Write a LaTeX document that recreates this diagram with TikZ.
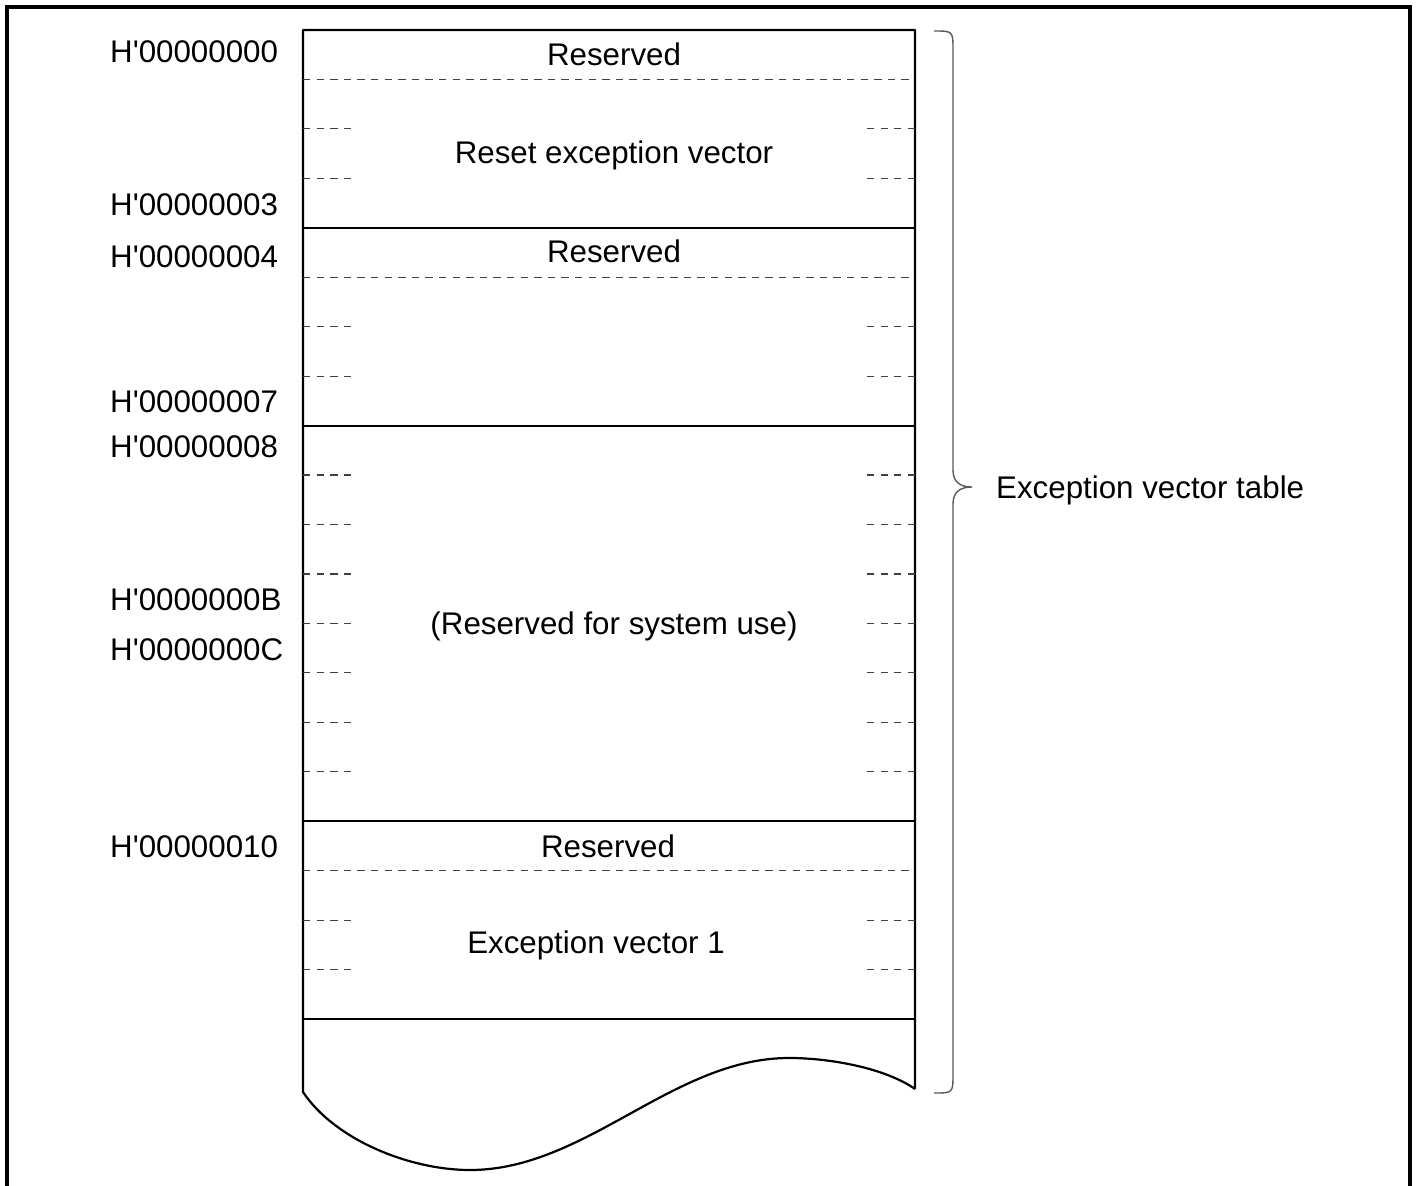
\documentclass[tikz,border=0pt]{standalone}
\usepackage{fontspec}
\setmainfont{Liberation Sans}[Ligatures=TeXOff]
\begin{document}
\begin{tikzpicture}[x=1pt,y=-1pt,
  txt/.style={font=\fontsize{31.3}{36}\selectfont, inner sep=0pt},
  addr/.style={txt, anchor=base west},
  cell/.style={txt, anchor=base},
  frameline/.style={line width=3.5pt},
  boxline/.style={line width=2.2pt},
  sdash/.style={line width=1.1pt, black!75, dash pattern=on 7.3pt off 6.3pt},
  bracecurve/.style={line width=1.4pt, black!65}]
\useasboundingbox (0,0) rectangle (1417,1186);
% outer frame (open at bottom)
\draw[frameline] (7,1186) -- (7,7) -- (1410,7) -- (1410,1186);
% memory column with wavy bottom
\draw[boxline, line join=round] (915,1089) -- (915,30) -- (303,30) -- (303,1092)
  .. controls (335,1140) and (410,1170) .. (470,1170)
  .. controls (586,1170) and (673,1058) .. (789,1058)
  .. controls (830,1058) and (885,1068) .. (915,1089);
\foreach \y in {227.8,425.6,821.2,1019} \draw[boxline] (303,\y) -- (915,\y);
% long dashed separators
\foreach \y in {79.5,277.3,870.7} \draw[sdash] (303,\y) -- (915,\y);
% short dashes at both edges
\foreach \y in {128.9,178.4,326.7,376.2,475,524.5,574,623.4,672.9,722.3,771.8,920.1,969.6}{
  \draw[sdash] (303,\y) -- (353,\y);
  \draw[sdash] (915,\y) -- (865,\y);
}
% brace
\draw[bracecurve] (934,31) .. controls (953,31) .. (953,50) -- (953,470)
  .. controls (953,482) and (960,487) .. (972,487)
  .. controls (960,487) and (953,492) .. (953,504) -- (953,1074)
  .. controls (953,1093) .. (934,1093);
% addresses
\node[addr] (a0) at (110,62) {H'00000000};
\node[addr] (a3) at (110,215) {H'00000003};
\node[addr] (a4) at (110,267) {H'00000004};
\node[addr] (a7) at (110,412) {H'00000007};
\node[addr] (a8) at (110,457) {H'00000008};
\node[addr] (aB) at (110,610) {H'0000000B};
\node[addr] (aC) at (110,660) {H'0000000C};
\node[addr] (a10) at (110,857) {H'00000010};
% cell texts
\node[cell] (r1) at (614,65) {Reserved};
\node[cell] (rv) at (614,163) {Reset exception vector};
\node[cell] (r2) at (614,262) {Reserved};
\node[cell] (rs) at (614,634) {(Reserved for system use)};
\node[cell] (r4) at (608,857) {Reserved};
\node[cell] (ev1) at (596,953) {Exception vector 1};
% brace label
\node[addr] (evt) at (996,498) {Exception vector table};
\end{tikzpicture}
\end{document}
